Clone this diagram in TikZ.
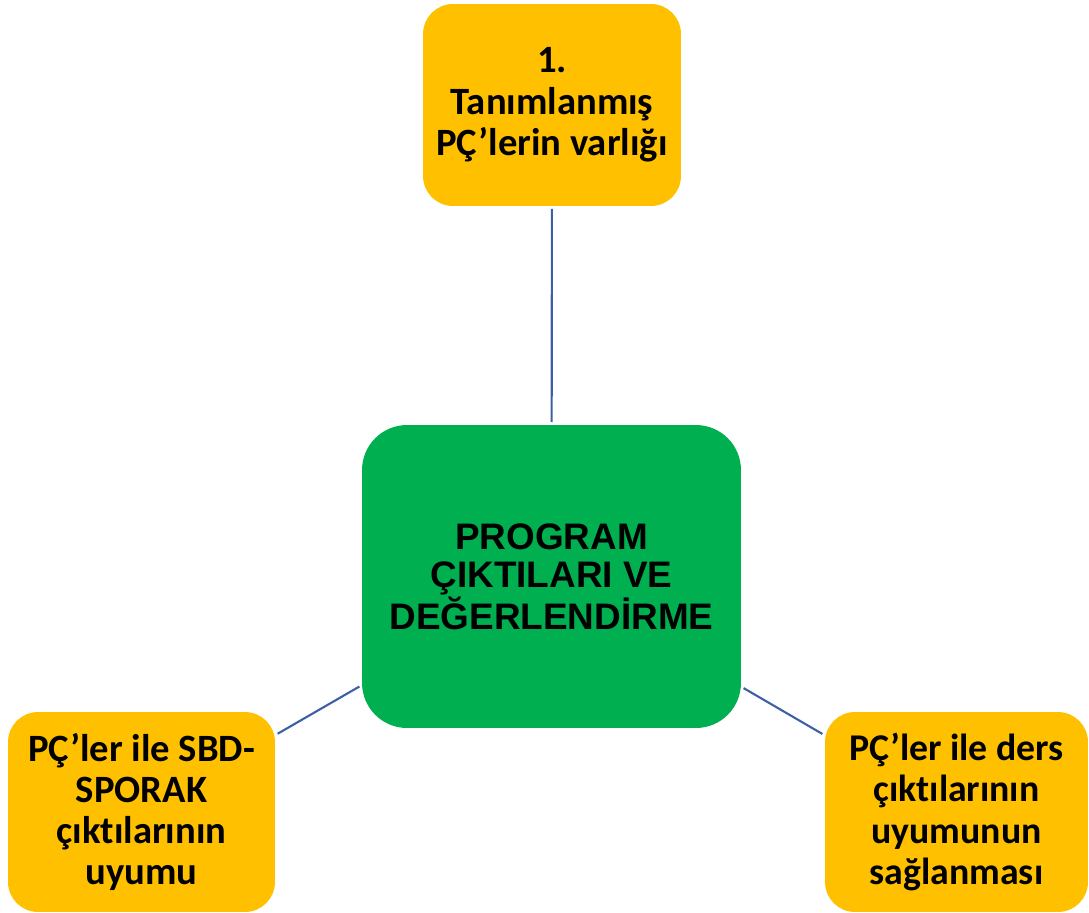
\documentclass[tikz,border=0pt]{standalone}
\usepackage{fontspec}
\usepackage{tikz}
\usepackage{xcolor}
\newfontfamily\boxfont[Ligatures=NoCommon]{Carlito}
\newfontfamily\midfont{Liberation Sans}
\definecolor{pcyellow}{HTML}{FFC000}
\definecolor{pcgreen}{HTML}{00B050}
\definecolor{pcline}{HTML}{3F5FA5}

\begin{document}
\begin{tikzpicture}[x=0.02cm, y=-0.02cm,
    sidebox/.style={fill=pcyellow, rounded corners=0.6cm, align=center, inner sep=0pt,
        font=\boxfont\bfseries\fontsize{22}{23.5}\selectfont},
    midbox/.style={fill=pcgreen, rounded corners=0.9cm, align=center, inner sep=0pt,
        minimum width=7.58cm, minimum height=6.06cm,
        font=\midfont\bfseries\fontsize{21}{21.5}\selectfont},
    link/.style={draw=pcline, line width=1.2pt, shorten <=1.5pt, shorten >=1.5pt}]
    \useasboundingbox (0,0) rectangle (1089,913);

    % Centre box
    \node[midbox] (prog) at (551.5,576.5) {PROGRAM\\ÇIKTILARI VE\\DEĞERLENDİRME};

    % Top box
    \node[sidebox, minimum width=5.16cm, minimum height=4.04cm] (tanim) at (552,105)
        {1.\\Tanımlanmış\\PÇ’lerin varlığı};

    % Left box
    \node[sidebox, minimum width=5.34cm, minimum height=4cm] (sporak) at (141.5,812)
        {PÇ’ler ile SBD-\\SPORAK\\çıktılarının\\uyumu};

    % Right box
    \node[sidebox, minimum width=5.26cm, minimum height=4cm,
        font=\boxfont\bfseries\fontsize{21.5}{23.5}\selectfont] (ders) at (956.5,812)
        {PÇ’ler ile ders\\çıktılarının\\uyumunun\\sağlanması};

    % Links
    \draw[link] (tanim) -- (prog);
    \draw[link] (sporak) -- (prog);
    \draw[link] (ders) -- (prog);
\end{tikzpicture}
\end{document}
